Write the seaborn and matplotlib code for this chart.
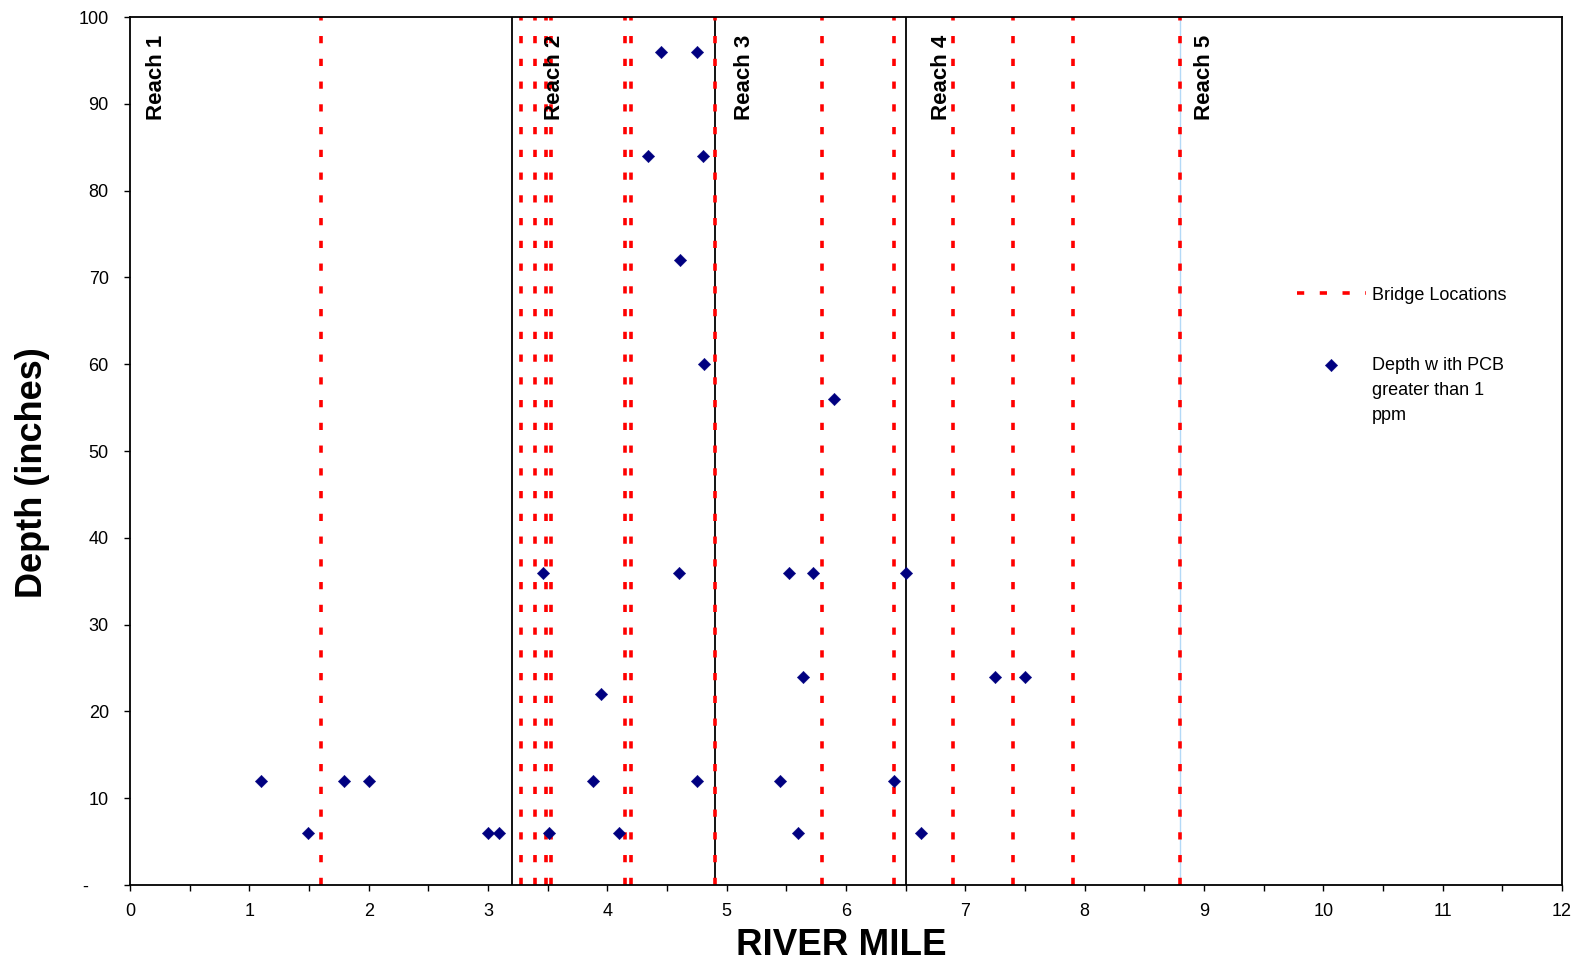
import matplotlib
matplotlib.use("Agg")
import matplotlib.pyplot as plt
import seaborn as sns

sns.set_style("white")
plt.rcParams['font.family'] = ['Liberation Sans', 'DejaVu Sans']
plt.rcParams['text.color'] = 'black'
plt.rcParams['xtick.color'] = 'black'
plt.rcParams['ytick.color'] = 'black'
plt.rcParams['axes.labelcolor'] = 'black'

# sample locations (river mile) and depth where PCB > 1 ppm
pcb_mile = [1.10, 1.49, 1.79, 2.00, 3.00, 3.09, 3.46, 3.51, 3.88, 3.95, 4.10,
            4.34, 4.45, 4.60, 4.61, 4.75, 4.75, 4.80, 4.81, 5.45, 5.52, 5.60,
            5.64, 5.72, 5.90, 6.40, 6.50, 6.63, 7.25, 7.50]
pcb_depth = [12, 6, 12, 12, 6, 6, 36, 6, 12, 22, 6,
             84, 96, 36, 72, 12, 96, 84, 60, 12, 36, 6,
             24, 36, 56, 12, 36, 6, 24, 24]

bridge_miles = [1.6, 3.28, 3.39, 3.49, 3.53, 4.15, 4.2, 4.9, 5.8, 6.4, 6.9, 7.4, 7.9, 8.8]

reach_bounds = [3.2, 4.9, 6.5]
reach5_bound = 8.8
reach_names = ['Reach 1', 'Reach 2', 'Reach 3', 'Reach 4', 'Reach 5']
reach_label_x = [0.22, 3.56, 5.15, 6.80, 9.00]

ytick_vals = list(range(0, 101, 10))
ytick_labels = ['-    '] + [str(v) for v in ytick_vals[1:]]

W, H = 1578, 966
fig = plt.figure(figsize=(W / 100, H / 100), dpi=100)
ax = fig.add_axes([130 / W, 1 - 885 / H, 1432 / W, 868 / H])

# bridge lines first so they come first in the legend
ax.vlines(bridge_miles, 0, 100, colors='#ff0000', linewidth=2.6,
          linestyles=(0, (2.0, 4.3)), label='Bridge Locations', zorder=2)

for b in reach_bounds:
    ax.axvline(b, color='black', linewidth=1.3, zorder=1)
ax.axvline(reach5_bound, color='#b3d9f7', linewidth=1.0, zorder=1)

sns.scatterplot(x=pcb_mile, y=pcb_depth, marker='D', s=40, color='#000080',
                edgecolor='#000080', linewidth=0.3,
                label='Depth w ith PCB\ngreater than 1\nppm', ax=ax, zorder=3)

for name, xr in zip(reach_names, reach_label_x):
    ax.text(xr, 98, name, rotation=90, ha='center', va='top',
            fontsize=16, fontweight='bold')

ax.set_xlim(0, 12)
ax.set_ylim(0, 100)
ax.set_xticks(range(0, 13))
ax.set_xticks([x + 0.5 for x in range(12)], minor=True)
ax.set_yticks(ytick_vals)
ax.set_yticklabels(ytick_labels)
ax.tick_params(axis='both', which='both', direction='out', length=4.3,
               width=1, color='black', labelsize=13, bottom=True, left=True)
ax.tick_params(axis='y', pad=11)
ax.tick_params(axis='x', pad=9)

for sp in ax.spines.values():
    sp.set_color('black')
    sp.set_linewidth(1.3)

ax.set_xlabel('RIVER MILE', fontsize=26.5, fontweight='bold')
ax.set_ylabel('Depth (inches)', fontsize=26, fontweight='bold')
ax.xaxis.set_label_coords(0.497, -0.050)
ax.yaxis.set_label_coords(-0.056, 0.475)

handles, labels = ax.get_legend_handles_labels()
leg = ax.legend(handles, labels, loc='upper left',
                bbox_to_anchor=(1297 / W, 1 - 287 / H), bbox_transform=fig.transFigure,
                frameon=False, fontsize=13, handlelength=3.8, handletextpad=0.35,
                borderpad=0, borderaxespad=0, labelspacing=2.95)
for t in leg.get_texts():
    t.set_linespacing(1.62)
# keep the marker next to the first line of the wrapped label
for col in leg._legend_handle_box.get_children():
    for item in col.get_children():
        item.align = 'top'

fig.savefig('out.png', dpi=100)
